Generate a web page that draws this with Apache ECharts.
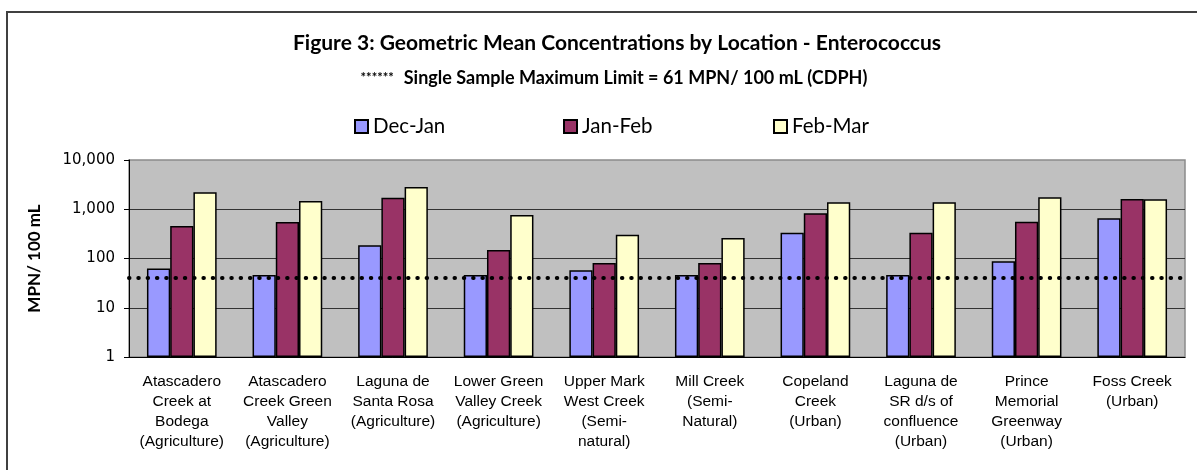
<!DOCTYPE html>
<html>
<head>
<meta charset="utf-8">
<script src="https://cdn.jsdelivr.net/npm/echarts@6/dist/echarts.min.js"></script>
<style>
  html, body { margin: 0; padding: 0; background: #fff; }
  #chart { width: 1197px; height: 470px; }
</style>
</head>
<body>
<div id="chart"></div>
<script>
  // sampling locations (line breaks as on the figure)
  var categories = [
    'Atascadero\nCreek at\nBodega\n(Agriculture)',
    'Atascadero\nCreek Green\nValley\n(Agriculture)',
    'Laguna de\nSanta Rosa\n(Agriculture)',
    'Lower Green\nValley Creek\n(Agriculture)',
    'Upper Mark\nWest Creek\n(Semi-\nnatural)',
    'Mill Creek\n(Semi-\nNatural)',
    'Copeland\nCreek\n(Urban)',
    'Laguna de\nSR d/s of\nconfluence\n(Urban)',
    'Prince\nMemorial\nGreenway\n(Urban)',
    'Foss Creek\n(Urban)'
  ]
  var seriesNames = ['Dec-Jan', 'Jan-Feb', 'Feb-Mar']

  // geometric means, MPN / 100 mL
  var decJan = [63, 46, 185, 46, 58, 46, 334, 46, 88, 655]
  var janFeb = [457, 551, 1718, 149, 81, 81, 828, 334, 560, 1616]
  var febMar = [2210, 1472, 2830, 764, 304, 261, 1384, 1384, 1746, 1600]

  // dotted reference line as drawn on the figure
  var limitLine = 41

  var colors = ['#9999FF', '#993366', '#FFFFCC']
  var legendLeft = [354, 563, 773]

  var chart = echarts.init(document.getElementById('chart'))

  function barSeries(name, values, i){
    var s = {
      name: name,
      type: 'bar',
      data: values,
      barGap: '0%',
      barCategoryGap: '34%',
      itemStyle: {
        color: colors[i],
        borderColor: '#000',
        borderWidth: 1.5
      }
    }
    if (i == 2) {
      s.markLine = {
        silent: true,
        symbol: ['none', 'none'],
        label: { show: false },
        lineStyle: {
          color: '#000',
          width: 4,
          type: [0.5, 8.8],
          cap: 'round'
        },
        data: [{ yAxis: limitLine }]
      }
    }
    return s
  }

  // one legend per series so the items sit at the same spacing as the figure
  var legends = seriesNames.map(function(n, i){
    return {
      data: [n],
      left: legendLeft[i],
      top: 116,
      padding: 0,
      itemWidth: 13,
      itemHeight: 13,
      itemGap: 5,
      icon: 'rect',
      textStyle: {
        fontFamily: 'Lato',
        fontSize: 20.5,
        color: '#000'
      }
    }
  })

  var option = {
    animation: false,
    textStyle: { fontFamily: 'Liberation Sans' },
    graphic: [{
      type: 'rect',
      shape: { x: 7, y: 12, width: 1400, height: 700 },
      style: { fill: 'none', stroke: '#404040', lineWidth: 2 },
      silent: true
    }],
    title: [{
      text: 'Figure 3: Geometric Mean Concentrations by Location - Enterococcus',
      left: 612,
      top: 26,
      textAlign: 'center',
      textStyle: {
        fontFamily: 'Lato',
        fontWeight: 'bold',
        fontSize: 21,
        lineHeight: 24,
        color: '#000'
      }
    }, {
      text: '{s|******}  {t|Single Sample Maximum Limit = 61 MPN/ 100 mL (CDPH)}',
      left: 609,
      top: 63,
      textAlign: 'center',
      textStyle: {
        rich: {
          s: { fontFamily: 'Lato', fontWeight: 'bold', fontSize: 13, color: '#000', lineHeight: 20 },
          t: { fontFamily: 'Lato', fontWeight: 'bold', fontSize: 18, color: '#000', lineHeight: 20 }
        }
      }
    }],
    legend: legends,
    grid: {
      left: 129,
      right: 12,
      top: 160,
      bottom: 113,
      show: true,
      backgroundColor: '#C0C0C0',
      borderColor: '#8a8a8a',
      borderWidth: 1.5
    },
    xAxis: {
      type: 'category',
      data: categories,
      axisLine: { lineStyle: { color: '#000', width: 1 } },
      axisTick: { length: 5, lineStyle: { color: '#000' } },
      axisLabel: {
        interval: 0,
        margin: 15,
        fontFamily: 'Liberation Sans',
        fontSize: 15.5,
        lineHeight: 20,
        color: '#000'
      }
    },
    yAxis: {
      type: 'log',
      logBase: 10,
      min: 1,
      max: 10000,
      name: 'MPN/ 100 mL',
      nameLocation: 'middle',
      nameGap: 86,
      nameTextStyle: {
        fontFamily: 'Lato',
        fontWeight: 'bold',
        fontSize: 17,
        color: '#000'
      },
      axisLine: { show: true, lineStyle: { color: '#000', width: 1 } },
      axisTick: { show: true, length: 5, lineStyle: { color: '#000' } },
      axisLabel: {
        margin: 14,
        fontFamily: 'DejaVu Sans',
        fontSize: 15,
        color: '#000',
        formatter: function(v){ return Math.round(v).toLocaleString('en-US') }
      },
      splitLine: {
        show: true,
        showMaxLine: false,
        lineStyle: { color: '#333', width: 1 }
      }
    },
    series: [
      barSeries(seriesNames[0], decJan, 0),
      barSeries(seriesNames[1], janFeb, 1),
      barSeries(seriesNames[2], febMar, 2)
    ]
  }

  chart.setOption(option)
</script>
</body>
</html>
